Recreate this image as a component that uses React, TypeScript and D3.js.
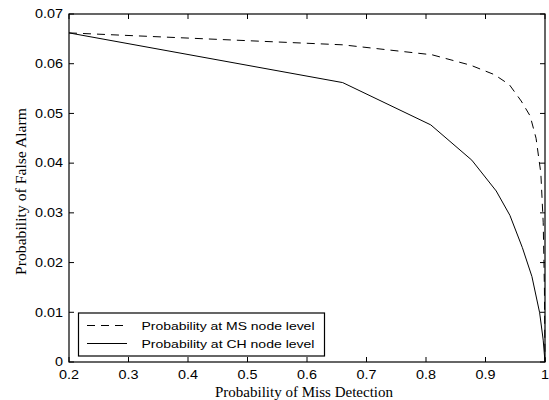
import React from "react";
import * as d3 from "d3";

const msMiss = [0.2, 0.66, 0.81, 0.875, 0.915, 0.94, 0.96, 0.975, 0.985, 0.993, 0.997, 0.999, 1.0];
const msFalse = [0.0662, 0.0638, 0.0618, 0.0597, 0.0578, 0.0558, 0.0525, 0.0495, 0.045, 0.038, 0.028, 0.015, 0.0];

const chMiss = [0.2, 0.66, 0.808, 0.877, 0.918, 0.941, 0.962, 0.978, 0.991, 0.997, 1.0];
const chFalse = [0.0662, 0.0562, 0.0477, 0.0406, 0.0344, 0.0295, 0.023, 0.0172, 0.0099, 0.0044, 0.0];

const xTicks = [0.2, 0.3, 0.4, 0.5, 0.6, 0.7, 0.8, 0.9, 1];
const yTicks = [0, 0.01, 0.02, 0.03, 0.04, 0.05, 0.06, 0.07];

const legendLabels = ["Probability at MS node level", "Probability at CH node level"];

const W = 549;
const H = 400;
const L = 69;
const R = 545;
const T = 14;
const B = 362;

const SANS = "Arial, 'Liberation Sans', Helvetica, sans-serif";
const SERIF = "'Times New Roman', 'Liberation Serif', serif";
const DASH = "8,6";
const SX = 1.2;

export default function App() {
  const x = d3.scaleLinear().domain([0.2, 1]).range([L, R]);
  const y = d3.scaleLinear().domain([0, 0.07]).range([B, T]);
  const line = d3
    .line<[number, number]>()
    .x((d) => x(d[0]))
    .y((d) => y(d[1]));
  const msPts = msMiss.map((m, i) => [m, msFalse[i]] as [number, number]);
  const chPts = chMiss.map((m, i) => [m, chFalse[i]] as [number, number]);
  const tick = 5;

  return (
    <svg
      width={W}
      height={H}
      style={{ position: "absolute", left: 0, top: 0, background: "#fff" }}
    >
      <rect x={0} y={0} width={W} height={H} fill="#fff" />
      <path d={line(msPts) ?? ""} fill="none" stroke="#000" strokeWidth={1} strokeDasharray={DASH} />
      <path d={line(chPts) ?? ""} fill="none" stroke="#000" strokeWidth={1} />

      {/* axes box */}
      <rect x={L} y={T} width={R - L} height={B - T} fill="none" stroke="#000" strokeWidth={1.2} />

      {xTicks.map((t) => (
        <g key={"x" + t}>
          <line x1={x(t)} x2={x(t)} y1={B} y2={B - tick} stroke="#000" />
          <line x1={x(t)} x2={x(t)} y1={T} y2={T + tick} stroke="#000" />
          <text
            transform={`translate(${x(t)}, ${B + 17}) scale(${SX}, 1)`}
            textAnchor="middle"
            fontFamily={SANS}
            fontSize={12}
          >
            {String(t)}
          </text>
        </g>
      ))}
      {yTicks.map((t) => (
        <g key={"y" + t}>
          <line x1={L} x2={L + tick} y1={y(t)} y2={y(t)} stroke="#000" />
          <line x1={R} x2={R - tick} y1={y(t)} y2={y(t)} stroke="#000" />
          <text
            transform={`translate(${L - 6}, ${y(t) + 4.3}) scale(${SX}, 1)`}
            textAnchor="end"
            fontFamily={SANS}
            fontSize={12}
          >
            {String(t)}
          </text>
        </g>
      ))}

      <text
        x={304}
        y={397}
        textAnchor="middle"
        fontFamily={SERIF}
        fontSize={14}
        textLength={178}
        lengthAdjust="spacingAndGlyphs"
      >
        Probability of Miss Detection
      </text>
      <text
        transform={`translate(26, 191.5) rotate(-90)`}
        textAnchor="middle"
        fontFamily={SERIF}
        fontSize={14}
        textLength={167}
        lengthAdjust="spacingAndGlyphs"
      >
        Probability of False Alarm
      </text>

      {/* legend */}
      <g>
        <rect x={78.5} y={313} width={246} height={43} fill="#fff" stroke="#000" strokeWidth={1.2} />
        <line x1={87} x2={127} y1={325.5} y2={325.5} stroke="#000" strokeDasharray={DASH} />
        <line x1={87} x2={127} y1={343.5} y2={343.5} stroke="#000" />
        <text
          x={141.5}
          y={329.5}
          fontFamily={SANS}
          fontSize={11.5}
          textLength={173}
          lengthAdjust="spacingAndGlyphs"
        >
          {legendLabels[0]}
        </text>
        <text
          x={141.5}
          y={347.5}
          fontFamily={SANS}
          fontSize={11.5}
          textLength={173}
          lengthAdjust="spacingAndGlyphs"
        >
          {legendLabels[1]}
        </text>
      </g>
    </svg>
  );
}
